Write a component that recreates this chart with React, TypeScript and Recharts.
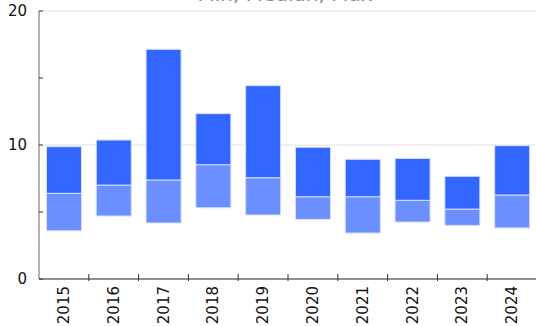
import { Bar, BarChart, CartesianGrid, XAxis, YAxis } from "recharts"

const years = ["2015", "2016", "2017", "2018", "2019", "2020", "2021", "2022", "2023", "2024"]
const minValues = [3.6, 4.7, 4.18, 5.32, 4.78, 4.45, 3.43, 4.25, 4.0, 3.81]
const medianValues = [6.39, 7.01, 7.39, 8.53, 7.56, 6.14, 6.14, 5.87, 5.22, 6.27]
const maxValues = [9.87, 10.37, 17.14, 12.34, 14.43, 9.83, 8.93, 9.0, 7.66, 9.95]
const yTicks = [0, 5, 10, 15, 20]
const gridValues = [10, 20]

const data = years.map((year, i) => ({
    year,
    base: minValues[i],
    lower: medianValues[i] - minValues[i],
    upper: maxValues[i] - medianValues[i],
}))

const FONT = "DejaVu Sans, sans-serif"
const CHART_W = 537
const CHART_H = 326
const LEFT = 39
const bandWidth = (CHART_W - LEFT) / years.length

function YTick(props: any) {
    const { x, y, payload } = props
    const major = payload.value % 10 === 0
    return (
        <g>
            <line x1={x + 12} x2={x + 16} y1={y} y2={y} stroke="#333" strokeWidth={1} />
            {major && (
                <text x={x} y={y} textAnchor="end" dominantBaseline="central" fill="#111" fontSize={15} fontFamily={FONT}>
                    {payload.value}
                </text>
            )}
        </g>
    )
}

function XTick(props: any) {
    const { x, y, payload, index } = props
    const left = x - bandWidth / 2
    return (
        <g>
            {index > 0 && <line x1={left} x2={left} y1={y} y2={y - 7} stroke="#333" strokeWidth={1} />}
            <text
                x={x}
                y={y + 5}
                transform={`rotate(-90, ${x}, ${y + 5})`}
                textAnchor="end"
                dominantBaseline="central"
                fill="#111"
                fontSize={15}
                fontFamily={FONT}
            >
                {payload.value}
            </text>
        </g>
    )
}

export default function App() {
    return (
        <div style={{ position: "absolute", left: 0, top: 0, width: 536, height: CHART_H, overflow: "hidden", background: "#fff" }}>
            <BarChart
                width={CHART_W}
                height={CHART_H}
                data={data}
                margin={{ top: 11, right: 0, bottom: 0, left: 0 }}
                barCategoryGap="15%"
            >
                <text x={285} y={1} textAnchor="middle" fill="#888" fontSize={20} fontFamily={FONT}>
                    Min, Median, Max
                </text>
                <CartesianGrid vertical={false} horizontalValues={gridValues} stroke="#e0e0e0" />
                <XAxis
                    dataKey="year"
                    height={47}
                    tickLine={false}
                    tickSize={0}
                    axisLine={{ stroke: "#222" }}
                    tick={<XTick />}
                    interval={0}
                />
                <YAxis
                    width={LEFT}
                    domain={[0, 20]}
                    ticks={yTicks}
                    tickLine={false}
                    tickSize={0}
                    tickMargin={12}
                    axisLine={{ stroke: "#666" }}
                    tick={<YTick />}
                    interval={0}
                />
                <Bar dataKey="base" stackId="a" fill="transparent" isAnimationActive={false} />
                <Bar dataKey="lower" stackId="a" fill="#6b8fff" stroke="#d5deff" strokeWidth={1} isAnimationActive={false} />
                <Bar dataKey="upper" stackId="a" fill="#3366ff" stroke="#d5deff" strokeWidth={1} isAnimationActive={false} />
            </BarChart>
        </div>
    )
}
